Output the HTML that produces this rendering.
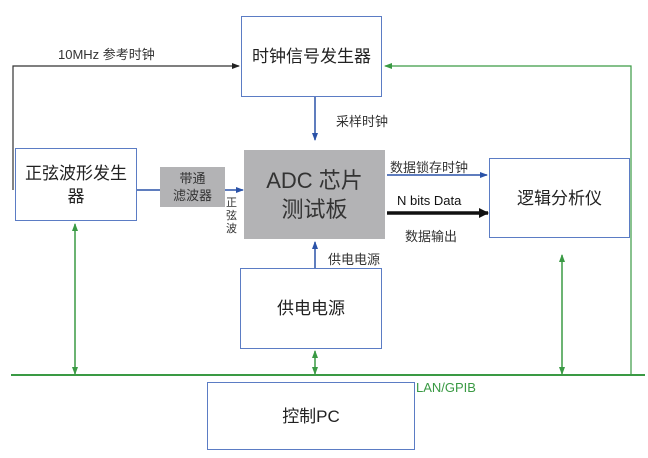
<!DOCTYPE html>
<html><head><meta charset="utf-8"><style>
body{margin:0;width:648px;height:458px;background:#fff;overflow:hidden;position:relative;font-family:"Liberation Sans","Noto Sans CJK SC",sans-serif;}
.b{position:absolute;box-sizing:border-box;border:1px solid #5b7cc4;background:#fff;display:flex;align-items:center;justify-content:center;text-align:center;color:#222;font-size:17px;line-height:23px}
.t{position:absolute;color:#333;font-size:13px;white-space:nowrap}
svg{position:absolute;left:0;top:0}
</style></head><body>
<svg width="648" height="458">
<defs>
<marker id="bl" markerWidth="8" markerHeight="8" refX="7" refY="4" orient="auto" markerUnits="userSpaceOnUse"><path d="M0,1 L8,4 L0,7z" fill="#2a52a8"/></marker>
<marker id="bk" markerWidth="8" markerHeight="8" refX="7" refY="4" orient="auto" markerUnits="userSpaceOnUse"><path d="M0,1 L8,4 L0,7z" fill="#222"/></marker>
<marker id="bk2" markerWidth="10" markerHeight="10" refX="9" refY="5" orient="auto" markerUnits="userSpaceOnUse"><path d="M0,0 L10,5 L0,10z" fill="#111"/></marker>
<marker id="gr" markerWidth="8" markerHeight="8" refX="7" refY="4" orient="auto-start-reverse" markerUnits="userSpaceOnUse"><path d="M0,1 L8,4 L0,7z" fill="#3a9a44"/></marker>
</defs>
<polyline points="13,190 13,66 239,66" fill="none" stroke="#333" stroke-width="1.2" marker-end="url(#bk)"/>
<polyline points="631,375 631,66 385,66" fill="none" stroke="#3a9a44" stroke-width="1.2" marker-end="url(#gr)"/>
<line x1="11" y1="375" x2="645" y2="375" stroke="#3a9a44" stroke-width="2"/>
<line x1="75" y1="224" x2="75" y2="374" stroke="#3a9a44" stroke-width="1.5" marker-start="url(#gr)" marker-end="url(#gr)"/>
<line x1="315" y1="351" x2="315" y2="374" stroke="#3a9a44" stroke-width="1.5" marker-start="url(#gr)" marker-end="url(#gr)"/>
<line x1="562" y1="255" x2="562" y2="374" stroke="#3a9a44" stroke-width="1.5" marker-start="url(#gr)" marker-end="url(#gr)"/>
<line x1="315" y1="97" x2="315" y2="140" stroke="#2a52a8" stroke-width="1.5" marker-end="url(#bl)"/>
<line x1="315" y1="268" x2="315" y2="242" stroke="#2a52a8" stroke-width="1.5" marker-end="url(#bl)"/>
<line x1="137" y1="190" x2="160" y2="190" stroke="#2a52a8" stroke-width="1.5"/>
<line x1="225" y1="190" x2="243" y2="190" stroke="#2a52a8" stroke-width="1.5" marker-end="url(#bl)"/>
<line x1="387" y1="175" x2="487" y2="175" stroke="#2a52a8" stroke-width="1.5" marker-end="url(#bl)"/>
<line x1="387" y1="213" x2="488" y2="213" stroke="#111" stroke-width="3.5" marker-end="url(#bk2)"/>
</svg>
<div class="b" style="left:241px;top:16px;width:141px;height:81px">时钟信号发生器</div>
<div class="b" style="left:15px;top:148px;width:122px;height:73px;padding:0 6px">正弦波形发生器</div>
<div class="b" style="left:160px;top:167px;width:65px;height:40px;background:#b3b3b5;border:none;font-size:13px;line-height:17px;color:#333">带通<br>滤波器</div>
<div class="b" style="left:244px;top:150px;width:141px;height:89px;background:#b3b3b5;border:none;font-size:22px;line-height:29px;color:#333">ADC 芯片<br>测试板</div>
<div class="b" style="left:489px;top:158px;width:141px;height:80px">逻辑分析仪</div>
<div class="b" style="left:240px;top:268px;width:142px;height:81px">供电电源</div>
<div class="b" style="left:207px;top:382px;width:208px;height:68px">控制PC</div>
<div class="t" style="left:58px;top:44px">10MHz 参考时钟</div>
<div class="t" style="left:336px;top:111px">采样时钟</div>
<div class="t" style="left:226px;top:197px;font-size:11px;line-height:13px;white-space:normal;width:12px">正弦波</div>
<div class="t" style="left:390px;top:157px">数据锁存时钟</div>
<div class="t" style="left:397px;top:193px;color:#111">N bits Data</div>
<div class="t" style="left:405px;top:226px">数据输出</div>
<div class="t" style="left:328px;top:249px">供电电源</div>
<div class="t" style="left:416px;top:380px;color:#3a9a44">LAN/GPIB</div>
</body></html>
